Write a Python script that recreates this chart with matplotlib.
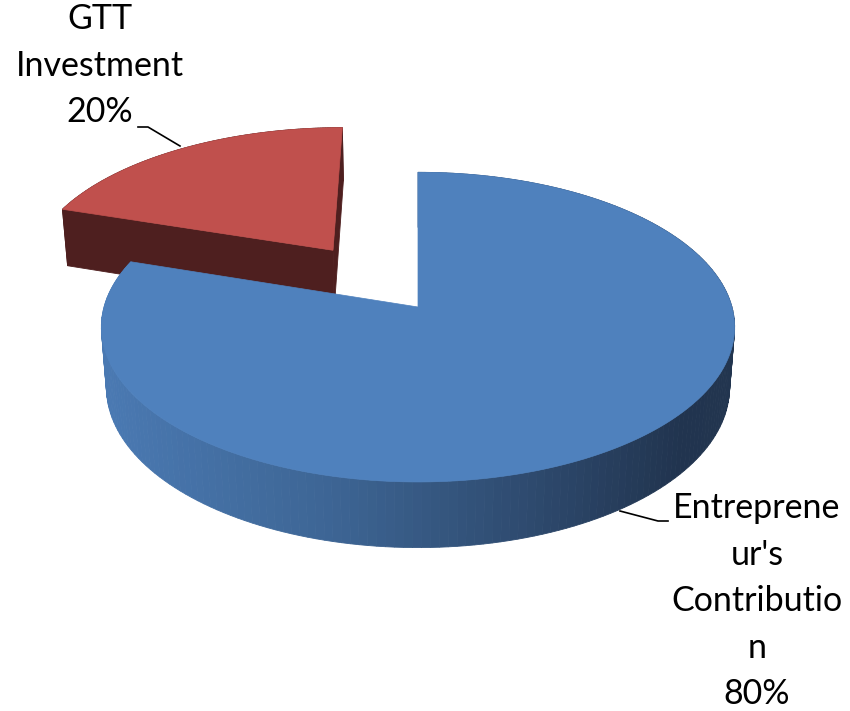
import numpy as np
import matplotlib
matplotlib.use("Agg")
import matplotlib.pyplot as plt
from matplotlib.patches import Polygon
from matplotlib.colors import LinearSegmentedColormap

# data
labels = ["Entreprene\nur's\nContributio\nn", "GTT\nInvestment"]
values = [80, 20]
explode = [0.0, 0.484]
top_cols = ["#4F81BD", "#C0504D"]
cut_cols = ["#1F3350", "#4E1F1F"]

plt.rcParams['font.family'] = ['Lato', 'DejaVu Sans']

# simple perspective camera, screen units are pixels
phi = np.radians(29)
dist = 6.73
scale = 2113
cx, cy = 418, 307
h = 0.222


def proj(x, y, z):
    x = np.asarray(x, float); y = np.asarray(y, float); z = np.asarray(z, float)
    vy = y + dist*np.cos(phi)
    vz = z - dist*np.sin(phi)
    depth = vy*np.cos(phi) - vz*np.sin(phi)
    up = vy*np.sin(phi) + vz*np.cos(phi)
    return cx + scale*x/depth, cy - scale*up/depth


fig = plt.figure(figsize=(8.5, 7.11), dpi=100)
ax = fig.add_axes([0, 0, 1, 1])
ax.set_xlim(0, 850)
ax.set_ylim(711, 0)
ax.axis('off')

wall_cmap = LinearSegmentedColormap.from_list(
    'wall', [(0, '#4A79B2'), (0.36, '#3D6594'), (0.68, '#2E4A6E'),
             (0.92, '#21344F'), (1, '#22354F')])

total = float(sum(values))
starts = np.cumsum([0] + values[:-1]) / total * 2*np.pi
ends = np.cumsum(values) / total * 2*np.pi

# draw back slice first
for i in [1, 0]:
    a0, a1 = starts[i], ends[i]
    mid = (a0 + a1) / 2
    ox, oy = explode[i]*np.sin(mid), explode[i]*np.cos(mid)
    t = np.linspace(a0, a1, 200)
    rx, ry = ox + np.sin(t), oy + np.cos(t)
    tx, ty = proj(rx, ry, 0*t)
    bx, by = proj(rx, ry, 0*t - h)
    ax_, ay_ = proj(ox, oy, 0)
    abx, aby = proj(ox, oy, -h)

    # outer wall strips
    for k in range(len(t)-1):
        xm = (tx[k] + tx[k+1]) / 2
        if i == 0:
            c = wall_cmap(np.clip((xm - 105) / (733 - 105), 0, 1))
        else:
            c = cut_cols[i]
        quad = [(tx[k], ty[k]), (tx[k+1], ty[k+1]), (bx[k+1], by[k+1]), (bx[k], by[k])]
        ax.add_patch(Polygon(quad, closed=True, fc=c, ec=c, lw=0.6))

    # radial cut faces
    if i == 1:
        for j in [0, -1]:
            quad = [(ax_, ay_), (tx[j], ty[j]), (bx[j], by[j]), (abx, aby)]
            ax.add_patch(Polygon(quad, closed=True, fc=cut_cols[i], ec=cut_cols[i], lw=0.6))
    else:
        quad = [(ax_, ay_), (tx[0], ty[0]), (bx[0], by[0]), (abx, aby)]
        ax.add_patch(Polygon(quad, closed=True, fc=cut_cols[i], ec=cut_cols[i], lw=0.6))

    top = [(ax_, ay_)] + list(zip(tx, ty))
    ax.add_patch(Polygon(top, closed=True, fc=top_cols[i], ec=top_cols[i], lw=0.5))

# labels
pct = [f"{round(v/total*100)}%" for v in values]
ax.text(757, 492, labels[0] + "\n" + pct[0], ha='center', va='top',
        fontsize=24.5, linespacing=1.56, color='black')
ax.text(100, 3, labels[1] + "\n" + pct[1], ha='center', va='top',
        fontsize=24.5, linespacing=1.56, color='black')

# leader lines
ax.plot([620, 658, 668], [511, 521, 521], color='black', lw=1.2)
ax.plot([138, 148, 180], [127, 127, 146], color='black', lw=1.2)

fig.savefig("out.png", dpi=100)
